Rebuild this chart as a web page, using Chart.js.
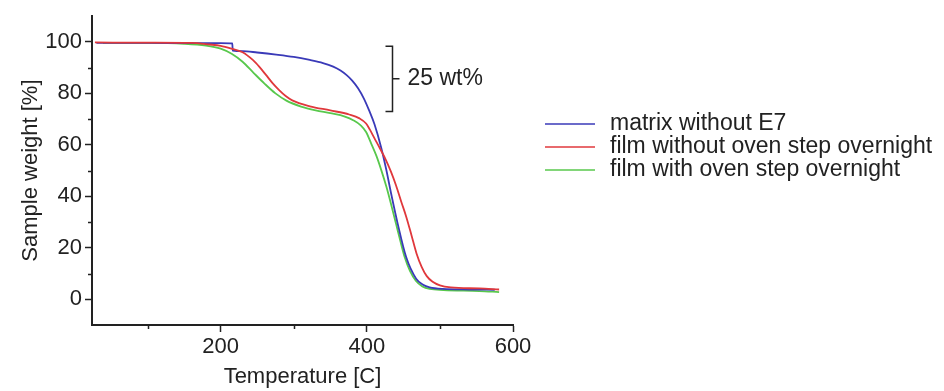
<!DOCTYPE html>
<html>
<head>
<meta charset="utf-8">
<script src="https://cdn.jsdelivr.net/npm/chart.js@4/dist/chart.umd.min.js"></script>
<style>
  html, body { margin: 0; padding: 0; background: #ffffff; }
  #wrap { width: 944px; height: 391px; position: relative; }
</style>
</head>
<body>
<div id="wrap"><canvas id="tga"></canvas></div>
<script>
// Thermogravimetric curves: sample weight (%) versus temperature (C)
const seriesNames = ['matrix without E7', 'film without oven step overnight', 'film with oven step overnight'];
const seriesColors = ['#3a3ab8', '#e0383c', '#58c84c'];

const matrixTemp   = [30, 100, 160, 200, 216, 216.5, 230, 250, 276, 300, 322, 340, 354, 364, 372, 380, 388, 396, 403, 410.5, 419.6, 426.5, 433.3, 442.3, 453.8, 467.5, 477, 486, 504, 540, 575];
const matrixWeight = [99.6, 99.6, 99.5, 99.5, 99.4, 96.6, 96.4, 95.9, 95.1, 94.2, 93.0, 91.8, 90.4, 88.9, 87.2, 85.0, 82.0, 78.0, 73.5, 68.0, 59.0, 50.5, 41.0, 29.3, 16.4, 8.0, 5.6, 4.6, 4.0, 3.8, 3.7];

const filmTemp   = [28, 100, 160, 185, 200, 217, 230, 244, 253, 262, 271, 280, 289, 298, 322, 350, 376, 390, 399, 404, 410, 418, 426, 433, 440, 447, 454, 461, 468, 475, 482, 490, 500, 515, 554, 581];
const filmWeight = [99.8, 99.7, 99.6, 99.0, 98.5, 97.2, 96.0, 93.0, 90.3, 87.2, 84.0, 81.3, 79.0, 77.3, 75.0, 73.4, 71.8, 70.3, 68.3, 66.0, 62.8, 58.6, 54.2, 49.6, 44.2, 38.0, 32.0, 25.0, 17.8, 12.6, 9.0, 6.8, 5.4, 4.6, 4.2, 3.8];

const ovenTemp   = [39, 100, 150, 180, 200, 215, 230, 245, 260, 275, 290, 310, 330, 350, 370, 382, 392, 399, 406, 413, 420, 427, 434, 440, 446, 452, 459, 467, 476, 486, 505, 554, 581];
const ovenWeight = [99.6, 99.6, 99.3, 98.6, 97.4, 95.4, 92.3, 88.0, 83.8, 80.0, 77.2, 74.9, 73.4, 72.3, 71.0, 69.5, 67.5, 65.0, 60.5, 55.8, 50.0, 43.5, 36.0, 29.3, 22.5, 16.2, 11.0, 7.2, 5.0, 4.0, 3.6, 3.2, 2.8];

// Axis ticks
const xMajorTicks = [200, 400, 600];
const xMinorTicks = [100, 300, 500];
const yMajorTicks = [0, 20, 40, 60, 80, 100];
const yMinorTicks = [10, 30, 50, 70, 90];

// Bracket marking the 25 wt% loss
const bracketTemp = 434;
const bracketHigh = 98.3;
const bracketLow = 73.0;
const bracketLabel = '25 wt%';

const FONT = '"Liberation Sans", Arial, Helvetica, sans-serif';
const INK = '#222222';

function pairs(xs, ys) { return xs.map((x, i) => ({ x: x, y: ys[i] })); }

const minorTicksPlugin = {
  id: 'minorTicks',
  afterDraw(chart) {
    const ctx = chart.ctx, xs = chart.scales.x, ys = chart.scales.y;
    const area = chart.chartArea;
    ctx.save();
    ctx.strokeStyle = INK;
    ctx.lineWidth = 1.5;
    ctx.beginPath();
    xMinorTicks.forEach(v => {
      const p = Math.round(xs.getPixelForValue(v)) + 0.5;
      ctx.moveTo(p, area.bottom); ctx.lineTo(p, area.bottom + 4);
    });
    yMinorTicks.forEach(v => {
      const p = Math.round(ys.getPixelForValue(v)) + 0.5;
      ctx.moveTo(area.left, p); ctx.lineTo(area.left - 4, p);
    });
    ctx.stroke();
    ctx.restore();
  }
};

const bracketPlugin = {
  id: 'bracket',
  afterDraw(chart) {
    const ctx = chart.ctx, xs = chart.scales.x, ys = chart.scales.y;
    const bx = Math.round(xs.getPixelForValue(bracketTemp)) + 0.5;
    const yTop = ys.getPixelForValue(bracketHigh);
    const yBot = ys.getPixelForValue(bracketLow);
    const yMid = (yTop + yBot) / 2;
    ctx.save();
    ctx.strokeStyle = INK;
    ctx.lineWidth = 1.5;
    ctx.beginPath();
    ctx.moveTo(bx - 7, yTop); ctx.lineTo(bx, yTop); ctx.lineTo(bx, yBot); ctx.lineTo(bx - 7, yBot);
    ctx.moveTo(bx, yMid); ctx.lineTo(bx + 7, yMid);
    ctx.stroke();
    ctx.fillStyle = INK;
    ctx.font = '23px ' + FONT;
    ctx.textBaseline = 'middle';
    ctx.textAlign = 'left';
    ctx.fillText(bracketLabel, bx + 15, yMid);
    ctx.restore();
  }
};

const legendPlugin = {
  id: 'sideLegend',
  afterDraw(chart) {
    const ctx = chart.ctx;
    const x0 = 545, x1 = 595, tx = 610, y0 = 124, dy = 23;
    ctx.save();
    ctx.font = '23px ' + FONT;
    ctx.textBaseline = 'middle';
    ctx.textAlign = 'left';
    seriesNames.forEach((name, i) => {
      const y = y0 + i * dy;
      ctx.strokeStyle = seriesColors[i];
      ctx.lineWidth = 1.6;
      ctx.beginPath();
      ctx.moveTo(x0, y); ctx.lineTo(x1, y);
      ctx.stroke();
      ctx.fillStyle = INK;
      ctx.fillText(name, tx, y);
    });
    ctx.restore();
  }
};

const lineStyle = (i) => ({
  label: seriesNames[i],
  borderColor: seriesColors[i],
  backgroundColor: seriesColors[i],
  borderWidth: 1.8,
  pointRadius: 0,
  showLine: true,
  fill: false,
  cubicInterpolationMode: 'monotone'
});

new Chart(document.getElementById('tga'), {
  type: 'scatter',
  data: {
    datasets: [
      Object.assign(lineStyle(0), { data: pairs(matrixTemp, matrixWeight), order: 1 }),
      Object.assign(lineStyle(1), { data: pairs(filmTemp, filmWeight), order: 0 }),
      Object.assign(lineStyle(2), { data: pairs(ovenTemp, ovenWeight), order: 2 })
    ]
  },
  options: {
    responsive: true,
    maintainAspectRatio: false,
    animation: false,
    layout: { padding: { left: 0, right: 431, top: 14, bottom: 0 } },
    plugins: { legend: { display: false }, tooltip: { enabled: false } },
    scales: {
      x: {
        type: 'linear',
        min: 24,
        max: 600,
        afterBuildTicks: (s) => { s.ticks = xMajorTicks.map(v => ({ value: v })); },
        afterFit: (s) => { s.height = 66; },
        border: { display: true, color: INK, width: 2 },
        grid: { drawOnChartArea: false, drawTicks: true, tickLength: 7, tickColor: INK, tickWidth: 1.5 },
        ticks: { color: INK, font: { family: FONT, size: 22 }, padding: 2, maxRotation: 0 },
        title: { display: true, text: 'Temperature [C]', color: INK, font: { family: FONT, size: 22 }, padding: { top: 0, bottom: 1 } }
      },
      y: {
        type: 'linear',
        min: -10,
        max: 110,
        afterBuildTicks: (s) => { s.ticks = yMajorTicks.map(v => ({ value: v })); },
        afterFit: (s) => { s.width = 92; },
        border: { display: true, color: INK, width: 2 },
        grid: { drawOnChartArea: false, drawTicks: true, tickLength: 7, tickColor: INK, tickWidth: 1.5 },
        ticks: { color: INK, font: { family: FONT, size: 22 }, padding: 3 },
        title: { display: true, text: 'Sample weight [%]', color: INK, font: { family: FONT, size: 22 }, padding: { top: 18, bottom: 0 } }
      }
    }
  },
  plugins: [minorTicksPlugin, bracketPlugin, legendPlugin]
});
</script>
</body>
</html>
